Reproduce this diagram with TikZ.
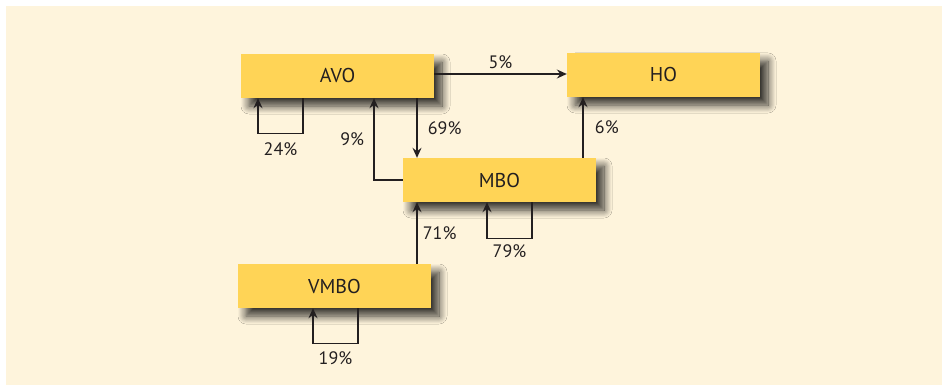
\documentclass[tikz,border=0pt]{standalone}
\usepackage{fontspec}
\setmainfont{PT Sans}
\usetikzlibrary{arrows.meta,shadows.blur}
\definecolor{paper}{HTML}{FEF4DC}
\definecolor{boxfill}{HTML}{FFD456}
\definecolor{ink}{HTML}{231F20}
\tikzset{
    school/.style={fill=boxfill, minimum width=193pt, minimum height=44pt, inner sep=0pt,
        font=\fontsize{20}{23}\selectfont, text=ink,
        blur shadow={shadow xshift=8pt, shadow yshift=-8pt, shadow blur radius=8pt, shadow blur steps=12, shadow opacity=80}},
    flow/.style={draw=ink, line width=1.2pt, -{Stealth[length=10pt,width=9pt,inset=3.5pt]}},
    pct/.style={font=\fontsize{18}{21}\selectfont, text=ink}
}
\begin{document}
\begin{tikzpicture}[x=1pt,y=-1pt]
    \useasboundingbox (0,0) rectangle (942,385);
    \fill[paper] (6,6) rectangle (942,385);
    %% the four schools
    \node[school] (avo)  at (337.5,76)  {AVO};
    \node[school] (ho)   at (663.5,75)  {HO};
    \node[school] (mbo)  at (499.5,180) {MBO};
    \node[school] (vmbo) at (334.5,286) {VMBO};
    %% flows between schools
    \draw[flow] (avo.east |- 0,74) -- (ho.west |- 0,74) node[pct, midway, above=1pt]{5\%};
    \draw[flow] ([xshift=79.5pt]avo.south) -- ([xshift=79.5pt]avo.south |- mbo.north) node[pct, midway, right=7pt]{69\%};
    \draw[flow] (mbo.west) -| ([xshift=36.5pt]avo.south) node[pct, pos=0.75, left=6pt]{9\%};
    \draw[flow] ([xshift=-80.5pt]ho.south |- mbo.north) -- ([xshift=-80.5pt]ho.south) node[pct, midway, right=8pt]{6\%};
    \draw[flow] ([xshift=82.5pt]vmbo.north) -- ([xshift=82.5pt]vmbo.north |- mbo.south) node[pct, midway, right=2pt]{71\%};
    %% staying in the same school
    \draw[flow] ([xshift=-34.5pt]avo.south) -- ++(0,35) -| ([xshift=-79.5pt]avo.south) node[pct, pos=0.25, below=6pt]{24\%};
    \draw[flow] ([xshift=32.5pt]mbo.south) -- ++(0,36) -| ([xshift=-12.5pt]mbo.south) node[pct, pos=0.25, below=3pt]{79\%};
    \draw[flow] ([xshift=23.5pt]vmbo.south) -- ++(0,35) -| ([xshift=-21.5pt]vmbo.south) node[pct, pos=0.25, below=5pt]{19\%};
\end{tikzpicture}
\end{document}
